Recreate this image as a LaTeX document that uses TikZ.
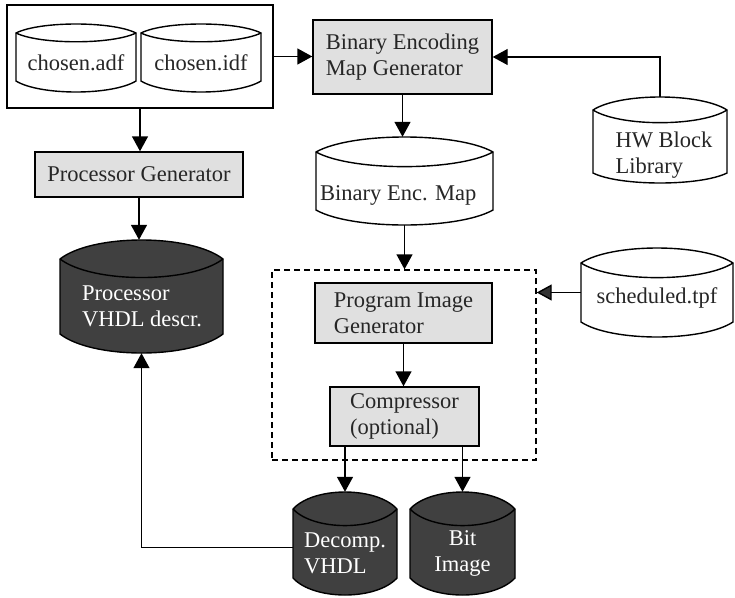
\documentclass[tikz,border=0pt]{standalone}
\usepackage{fontspec}
\setmainfont{Liberation Serif}
\usetikzlibrary{arrows.meta,calc}

% drum-shaped data store: #1 name, #2 left x, #3 right x, #4 top y, #5 bottom y,
% #6 depth of the top rim, #7 depth of the bottom rim, #8 fill style
\newcommand\drum[8]{%
  \node[drumbody, minimum width={(#3-#2)*1pt}, minimum height={(#5-#4)*1pt}]
    (#1) at ({(#2+#3)/2},{(#4+#5)/2}) {};
  \filldraw[#8]
    (#2,{#4+#6}) .. controls ({#2+0.2*(#3-#2)},{#4-#6/3}) and ({#2+0.8*(#3-#2)},{#4-#6/3}) .. (#3,{#4+#6})
    -- (#3,{#5-#7}) .. controls ({#2+0.8*(#3-#2)},{#5+#7/3}) and ({#2+0.2*(#3-#2)},{#5+#7/3}) .. (#2,{#5-#7})
    -- cycle;
  \draw[#8, fill=none]
    (#2,{#4+#6}) .. controls ({#2+0.2*(#3-#2)},{#4+#6+#6*1.3}) and ({#2+0.8*(#3-#2)},{#4+#6+#6*1.3}) .. (#3,{#4+#6});
}

\tikzset{
  x=1pt, y=-1pt,
  every node/.style={font=\fontsize{22.5}{26}\selectfont},
  drumbody/.style={draw=none, inner sep=0pt, rectangle},
  lightdrum/.style={draw=black, fill=white, line width=1.4pt},
  darkdrum/.style={draw=black, fill=black!75, line width=1.4pt},
  procbox/.style={draw=black, fill=black!12, line width=1.4pt, inner sep=0pt,
    align=left, text=black!85},
  groupbox/.style={draw=black, line width=1.4pt, inner sep=0pt},
  darktext/.style={text=black!85, align=left, inner sep=0pt},
  lighttext/.style={text=white, align=left, inner sep=0pt},
  flow/.style={draw=black, line width=1.4pt,
    -{Triangle[length=15pt,width=16pt]}},
  flowgrey/.style={draw=black, line width=1.4pt,
    -{Triangle[length=15pt,width=16pt,fill=black!80]}},
}

\begin{document}
\begin{tikzpicture}
\useasboundingbox (0,0) rectangle (735,597);

% architecture and implementation definition files
\node[groupbox, minimum width=266pt, minimum height=103pt] (defs) at (140,56.5) {};
\drum{adf}{16}{136}{24}{92}{9}{11}{lightdrum}
\node[darktext] (adft) at (76,63) {chosen.adf};
\drum{idf}{141}{261}{24}{92}{9}{11}{lightdrum}
\node[darktext] (idft) at (201,63) {chosen.idf};

% generators
\node[procbox, minimum width=179pt, minimum height=74pt] (bemg) at (402.5,57)
  {Binary Encoding\\Map Generator};
\node[procbox, minimum width=208pt, minimum height=45pt] (pg) at (139,174.5)
  {Processor Generator};

% libraries and intermediate files
\drum{hwlib}{593}{727}{97}{183}{13}{10}{lightdrum}
\node[darktext] (hwlibt) at (664,155) {HW Block\\Library};
\drum{bem}{316}{493}{137}{225}{15}{15}{lightdrum}
\node[darktext, anchor=west] (bemt) at (320,195) {Binary Enc. Map};
\drum{sched}{581}{733}{248}{337}{15}{15}{lightdrum}
\node[darktext] (schedt) at (657,298) {scheduled.tpf};

% processor description
\drum{pv}{60}{223}{240}{353}{19}{19}{darkdrum}
\node[lighttext] (pvt) at (142,306) {Processor\\VHDL descr.};

% program image generation
\node[draw=black, dashed, line width=1.4pt, dash pattern=on 6pt off 4pt,
  minimum width=264pt, minimum height=190pt, inner sep=0pt] (pimg) at (404,365) {};
\node[procbox, minimum width=177pt, minimum height=60pt] (pig) at (403.5,313)
  {Program Image\\Generator};
\node[procbox, minimum width=149pt, minimum height=59pt] (comp) at (404.5,416.5)
  {Compressor\\(optional)};

% outputs
\drum{dec}{293}{397}{492}{595}{17}{17}{darkdrum}
\node[lighttext] (dect) at (345,553) {Decomp.\\VHDL};
\drum{bit}{410}{515}{492}{595}{17}{17}{darkdrum}
\node[lighttext, align=center] (bitt) at (462.5,553) {Bit\\Image};

% data flow
\draw[flow] (defs.east) -- (defs.east -| bemg.west);
\draw[flow] (hwlib.north) |- (bemg.east);
\draw[flow] (defs.south) -- (defs.south |- pg.north);
\draw[flow] (pg.south) -- (pg.south |- pv.north);
\draw[flow] (bemg.south) -- (bemg.south |- bem.north);
\draw[flow] (bem.south) -- (bem.south |- pimg.north);
\draw[flowgrey] (sched.west) -- (sched.west -| pimg.east);
\draw[flow] (pig.south) -- (pig.south |- comp.north);
\draw[flow] (comp.south -| dec.north) -- (dec.north);
\draw[flow] (comp.south -| bit.north) -- (bit.north);
\draw[flow] ($(dec.west)+(0,4)$) -| (pv.south);
\end{tikzpicture}
\end{document}
